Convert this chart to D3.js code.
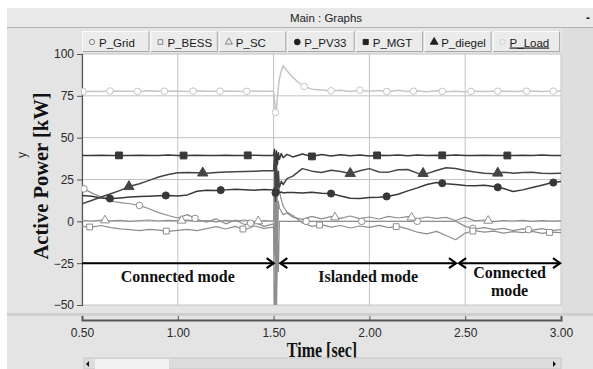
<!DOCTYPE html>
<html>
<head>
<meta charset="utf-8">
<script src="https://cdn.jsdelivr.net/npm/d3@7"></script>
<style>
  html, body { margin: 0; padding: 0; background: #fff; }
  svg { display: block; }
</style>
</head>
<body>
<svg id="chart" width="593" height="369"></svg>
<script>
// sample times (s), denser around the switching instant
const TIMES = [0.50, 0.55, 0.60, 0.65, 0.70, 0.75, 0.80, 0.85, 0.90, 0.95, 1.00, 1.05, 1.10, 1.15, 1.20, 1.25, 1.30, 1.35, 1.40, 1.45, 1.50,
  1.505, 1.51, 1.515, 1.52, 1.525, 1.53, 1.54, 1.55, 1.57,
  1.60, 1.65, 1.70, 1.75, 1.80, 1.85, 1.90, 1.95, 2.00, 2.05, 2.10, 2.15, 2.20, 2.25, 2.30, 2.35, 2.40, 2.45, 2.50,
  2.55, 2.60, 2.65, 2.70, 2.75, 2.80, 2.85, 2.90, 2.95, 3.00]

const P_GRID = [20, 17, 14.5, 12, 11.2, 10.5, 9.5, 7.5, 5.2, 3.5, 2, 4, 1.2, -0.5, 1.5, -1.5, 0.8, -2, -0.5, -3, -1.5,
  -55, -35, -58, -10, -30, 0, 0, 0, 0,
  0, 0, 0, 0, 0, 0, 0, 0, 0, 0, 0, 0, 0, 0, 0, 0, 0, 0, -3,
  -4.5, -3.8, -5, -4.2, -5.5, -4.5, -5.2, -4.4, -5.6, -5]
const P_BESS = [-3, -3.5, -2.5, -3.8, -4.5, -5, -5.5, -4.8, -5.2, -6, -5.4, -4.8, -5.6, -4.4, -3.2, -4.6, -3, -5, -2.8, -4.2, -3.5,
  -20, 30, -40, 25, 22, 18, 13, 9, 5.5,
  3.5, -1, -3, -2, -3.5, -2.5, -4, -2.8, -3.6, -2.4, -3.8, -3, -4.5, -6.5, -7.5, -6, -8.5, -11, -7,
  -5.5, -6.5, -5.8, -7, -6.2, -6.8, -6, -7.2, -6.5, -6.8]
const P_SC = [0.5, 0.2, 0.8, 0.3, 0.6, 0, 0.5, 0.8, 0.2, 0.6, 0.3, 0.7, 0, 0.5, -0.3, 0.6, 0.1, 0.8, -0.2, 0.4, 0.1,
  35, -45, 25, -20, 12, 8, 6, 4, 5,
  2.5, 1.2, 3, 1.5, 2.8, 1.8, 3.2, 1.6, 2.6, 1.4, 3, 2, 2.8, 1.5, 2.6, 1.8, 2.4, 0.5, 2.5,
  0.3, 0.8, -0.2, 0.5, 0.2, 0.6, 0, 0.4, 0.1, 0.3]
const P_PV33 = [15.5, 15, 14, 13.6, 14, 14.5, 14.8, 15, 15.3, 15.5, 15.2, 15.8, 18, 18.6, 18.5, 18.8, 19.2, 18.9, 18.6, 19, 18.8,
  20, 17, 22, 16, 19, 17, 17.5, 17, 17.2,
  17.2, 17, 17.4, 16.8, 16.6, 15.2, 13.8, 13.6, 14.2, 14.4, 15, 16.2, 18.2, 20, 22, 23.2, 22.5, 22, 21.4,
  21.2, 21.6, 20.8, 19.6, 17.8, 18.8, 20.2, 21.6, 23, 23.8]
const P_MGT = [39.4, 39.3, 39.5, 39.4, 39.4, 39.3, 39.5, 39.4, 39.4, 39.6, 39.4, 39.3, 39.5, 39.4, 39.4, 39.5, 39.3, 39.4, 39.5, 39.4, 39.4,
  43, 30, 42, 34, 41, 37, 40.5, 38, 40,
  38.5, 40.2, 38.8, 40, 39, 39.8, 39.2, 39.6, 39.1, 39.5, 39.3, 39.7, 39.2, 39.6, 39.3, 39.5, 39.4, 39.6, 39.4,
  39.3, 39.5, 39.4, 39.4, 39.3, 39.5, 39.4, 39.6, 39.3, 39.4]
const P_DIEGEL = [10.5, 12.5, 14.5, 16.5, 18.5, 21, 22.5, 24.5, 26.5, 28, 29, 29.2, 29, 28.8, 29.2, 29.5, 29.6, 29.8, 30, 30.2, 30.3,
  40, 12, 35, 18, 30, 20, 24, 22, 25.5,
  27, 31.5, 30, 29.2, 30.5, 29.8, 28.6, 30.2, 31.5, 29.5, 29.4, 30.8, 31, 28.8, 28.5, 30.4, 32, 31.6, 30.4,
  29.5, 28.8, 28.4, 29.4, 28.8, 29.2, 29.4, 28.8, 28.6, 28.8]
const P_LOAD = [77.5, 77.8, 77.6, 77.9, 77.7, 77.8, 77.6, 78, 77.7, 77.8, 77.9, 77.6, 78, 77.8, 77.7, 77.9, 77.8, 77.6, 77.9, 77.8, 77.7,
  72, 65, 67, 74, 80, 85, 90, 93, 90,
  86, 81, 79, 78.5, 78, 78.3, 77.6, 78.4, 77.8, 78.2, 77.5, 78.3, 77.6, 77.9, 77.5, 78.1, 77.4, 77.8, 77.5,
  77.8, 77.6, 77.7, 77.8, 77.6, 77.7, 77.9, 77.6, 77.8, 77.7]

// marker positions (s) per series
const GRID_MARKS = [0.51, 0.80, 1.09, 1.38, 1.67, 1.96, 2.25, 2.54, 2.83]
const BESS_MARKS = [0.54, 0.94, 1.34, 1.74, 2.14, 2.54, 2.94]
const SC_MARKS = [0.62, 1.02, 1.42, 1.82, 2.22, 2.62]
const PV_MARKS = [0.646, 0.9375, 1.224, 1.51, 1.80, 2.09, 2.38, 2.67, 2.96]
const MGT_MARKS = [0.693, 1.03, 1.365, 1.70, 2.04, 2.38, 2.72]
const DIEGEL_MARKS = [0.745, 1.13, 1.90, 2.28, 2.67]
const LOAD_MARKS = [0.505, 0.646, 0.79, 0.93, 1.08, 1.22, 1.36, 1.51, 1.66, 1.80, 1.95, 2.09, 2.23, 2.38, 2.53, 2.67, 2.82, 2.96]

const SERIES_NAMES = ['P_Grid', 'P_BESS', 'P_SC', 'P_PV33', 'P_MGT', 'P_diegel', 'P_Load']
const Y_TICKS = [100, 75, 50, 25, 0, -25, -50]
const X_TICKS = [0.5, 1.0, 1.5, 2.0, 2.5, 3.0]

const MODE_LABELS = [['Connected mode'], ['Islanded mode'], ['Connected', 'mode']]
const MODE_START = [0.5, 1.535, 2.468]
const MODE_END = [1.50, 2.452, 2.995]

const PLOT_LEFT = 82
const PLOT_RIGHT = 561
const PLOT_TOP = 54
const PLOT_BOTTOM = 305
const BG = '#e4e4e4'
const SANS = 'Liberation Sans, Arial, sans-serif'
const SERIF = 'Liberation Serif, Times New Roman, serif'

const seriesStyle = [
  { values: P_GRID, marks: GRID_MARKS, symbol: d3.symbolCircle, size: 34, color: '#8e8e8e', filled: false, width: 1.2 },
  { values: P_BESS, marks: BESS_MARKS, symbol: d3.symbolSquare, size: 34, color: '#8e8e8e', filled: false, width: 1.2 },
  { values: P_SC, marks: SC_MARKS, symbol: d3.symbolTriangle, size: 34, color: '#8e8e8e', filled: false, width: 1.2 },
  { values: P_PV33, marks: PV_MARKS, symbol: d3.symbolCircle, size: 40, color: '#383838', filled: true, width: 1.5 },
  { values: P_MGT, marks: MGT_MARKS, symbol: d3.symbolSquare, size: 46, color: '#383838', filled: true, width: 1.5 },
  { values: P_DIEGEL, marks: DIEGEL_MARKS, symbol: d3.symbolTriangle, size: 46, color: '#454545', filled: true, width: 1.5 },
  { values: P_LOAD, marks: LOAD_MARKS, symbol: d3.symbolCircle, size: 34, color: '#c6c6c6', filled: false, width: 1.5 }
]

const svg = d3.select('#chart')

const x = d3.scaleLinear().domain([0.5, 3.0]).range([PLOT_LEFT, PLOT_RIGHT])
const y = d3.scaleLinear().domain([-50, 100]).range([PLOT_BOTTOM, PLOT_TOP])

// window background
svg.append('rect').attr('x', 7).attr('y', 8).attr('width', 586).attr('height', 361).attr('fill', BG)

// title bar
svg.append('rect').attr('x', 7).attr('y', 8).attr('width', 586).attr('height', 19).attr('fill', '#e9e9e9')
svg.append('line').attr('x1', 7).attr('x2', 593).attr('y1', 27.5).attr('y2', 27.5).attr('stroke', '#b4b4b4')
svg.append('text')
  .attr('x', 326).attr('y', 22)
  .attr('text-anchor', 'middle')
  .attr('font-family', SANS).attr('font-size', 11.5).attr('fill', '#222')
  .text('Main : Graphs')
svg.append('text')
  .attr('x', 588).attr('y', 22)
  .attr('text-anchor', 'middle')
  .attr('font-family', SANS).attr('font-size', 12).attr('font-weight', 'bold').attr('fill', '#222')
  .text('-')
svg.append('path').attr('d', 'M590,30 L593,33 L590,36 Z').attr('fill', '#111')

// right panel shade
svg.append('rect').attr('x', PLOT_RIGHT + 1).attr('y', 28).attr('width', 32).attr('height', 285).attr('fill', '#dedede')

// legend buttons
const btnW = (PLOT_RIGHT - PLOT_LEFT) / SERIES_NAMES.length
const legend = svg.append('g')
SERIES_NAMES.forEach((name, i) => {
  const bx = PLOT_LEFT + i * btnW
  const g = legend.append('g').attr('transform', `translate(${bx},31)`)
  g.append('rect').attr('width', btnW - 1).attr('height', 21).attr('fill', '#ebebeb')
  g.append('path').attr('d', `M0.5,20.5 V0.5 H${btnW - 1.5}`).attr('fill', 'none').attr('stroke', '#fafafa')
  g.append('path').attr('d', `M${btnW - 1.5},0.5 V20.5 H0.5`).attr('fill', 'none').attr('stroke', '#a8a8a8')
  const st = seriesStyle[i]
  const legendColor = i < 3 ? '#7a7a7a' : (i === 6 ? '#cfcfcf' : '#202020')
  g.append('path')
    .attr('transform', 'translate(10,11)')
    .attr('d', d3.symbol().type(st.symbol).size(st.filled ? 26 : 22)())
    .attr('fill', st.filled ? legendColor : 'none')
    .attr('stroke', legendColor)
    .attr('stroke-width', 0.9)
  const t = g.append('text')
    .attr('x', 17).attr('y', 15.5)
    .attr('font-family', SANS).attr('font-size', 11.5).attr('fill', '#1a1a1a')
    .text(name)
  if (i === 6) t.attr('text-decoration', 'underline')
})

// plot area
svg.append('rect')
  .attr('x', PLOT_LEFT).attr('y', PLOT_TOP)
  .attr('width', PLOT_RIGHT - PLOT_LEFT).attr('height', PLOT_BOTTOM - PLOT_TOP)
  .attr('fill', '#fff').attr('stroke', '#c4c4c4')

// grid
svg.append('g').selectAll('line').data(X_TICKS.slice(1, -1)).join('line')
  .attr('x1', d => x(d)).attr('x2', d => x(d))
  .attr('y1', PLOT_TOP).attr('y2', PLOT_BOTTOM)
  .attr('stroke', '#c2c2c2')
svg.append('g').selectAll('line').data(Y_TICKS.slice(1, -1)).join('line')
  .attr('x1', PLOT_LEFT).attr('x2', PLOT_RIGHT)
  .attr('y1', d => y(d)).attr('y2', d => y(d))
  .attr('stroke', '#c2c2c2')

// y axis
const yAxis = svg.append('g')
  .attr('transform', `translate(${PLOT_LEFT},0)`)
  .call(d3.axisLeft(y).tickValues(Y_TICKS).tickSize(5).tickPadding(3).tickFormat(d3.format('d')))
yAxis.select('.domain').attr('stroke', '#555').attr('stroke-width', 1.2)
yAxis.selectAll('.tick line').attr('stroke', '#555')
yAxis.selectAll('.tick text').attr('font-family', SANS).attr('font-size', 12).attr('fill', '#2a2a2a')

svg.append('text')
  .attr('transform', 'translate(26,155) rotate(-90)')
  .attr('text-anchor', 'middle')
  .attr('font-family', SANS).attr('font-size', 12).attr('fill', '#333')
  .text('y')
svg.append('text')
  .attr('transform', 'translate(48,176) rotate(-90)')
  .attr('text-anchor', 'middle')
  .attr('font-family', SERIF).attr('font-size', 20.5).attr('font-weight', 'bold').attr('fill', '#111')
  .text('Active Power [kW]')

// separator under plot
svg.append('rect').attr('x', 7).attr('y', 313).attr('width', 586).attr('height', 3).attr('fill', '#cfcfcf')

// x axis
const xAxis = svg.append('g')
  .attr('transform', 'translate(0,320)')
  .call(d3.axisBottom(x).tickValues(X_TICKS).tickSize(-4).tickPadding(8).tickFormat(d3.format('.2f')))
xAxis.select('.domain').attr('stroke', '#555').attr('stroke-width', 2)
xAxis.selectAll('.tick line').attr('stroke', '#555')
xAxis.selectAll('.tick text').attr('font-family', SANS).attr('font-size', 12).attr('fill', '#2a2a2a')

svg.append('text')
  .attr('transform', 'translate(322,357) scale(1,1.3)')
  .attr('text-anchor', 'middle')
  .attr('font-family', SERIF).attr('font-size', 16).attr('font-weight', 'bold').attr('fill', '#111')
  .text('Time [sec]')

// scrollbar
svg.append('rect').attr('x', 84).attr('y', 358).attr('width', 477).attr('height', 11).attr('fill', '#dcdcdc').attr('stroke', '#c8c8c8')
svg.append('rect').attr('x', 95).attr('y', 359).attr('width', 74).attr('height', 10).attr('fill', '#f2f2f2')
svg.append('path').attr('d', 'M89,361 L86,364 L89,367 Z').attr('fill', '#111')
svg.append('path').attr('d', 'M553,361 L556,364 L553,367 Z').attr('fill', '#111')

// series
const clip = svg.append('clipPath').attr('id', 'plot-clip')
clip.append('rect')
  .attr('x', PLOT_LEFT).attr('y', PLOT_TOP)
  .attr('width', PLOT_RIGHT - PLOT_LEFT).attr('height', PLOT_BOTTOM - PLOT_TOP)

const plot = svg.append('g').attr('clip-path', 'url(#plot-clip)')
const line = d3.line().x((d, i) => x(TIMES[i])).y(d => y(d))
const bisect = d3.bisector(d => d).right

function valueAt (values, t) {
  const i = Math.min(Math.max(bisect(TIMES, t) - 1, 0), TIMES.length - 2)
  const f = (t - TIMES[i]) / (TIMES[i + 1] - TIMES[i])
  return values[i] + f * (values[i + 1] - values[i])
}

seriesStyle.forEach(st => {
  plot.append('path')
    .datum(st.values)
    .attr('fill', 'none')
    .attr('stroke', st.color)
    .attr('stroke-width', st.width)
    .attr('stroke-linejoin', 'round')
    .attr('d', line)
})

seriesStyle.forEach(st => {
  plot.append('g').selectAll('path').data(st.marks).join('path')
    .attr('transform', t => `translate(${x(t)},${y(valueAt(st.values, t))})`)
    .attr('d', d3.symbol().type(st.symbol).size(st.size)())
    .attr('fill', st.filled ? st.color : '#fff')
    .attr('stroke', st.color)
    .attr('stroke-width', 1)
})

// operating mode arrows
const ARROW_Y = y(-25)
const modes = svg.append('g')
MODE_LABELS.forEach((lines, i) => {
  const x0 = x(MODE_START[i])
  const x1 = x(MODE_END[i])
  modes.append('line')
    .attr('x1', x0).attr('x2', x1).attr('y1', ARROW_Y).attr('y2', ARROW_Y)
    .attr('stroke', '#000').attr('stroke-width', 2)
  modes.append('path')
    .attr('d', `M${x1 - 7},${ARROW_Y - 5} L${x1},${ARROW_Y} L${x1 - 7},${ARROW_Y + 5}`)
    .attr('fill', 'none').attr('stroke', '#000').attr('stroke-width', 2.2)
  if (i > 0) {
    modes.append('path')
      .attr('d', `M${x0 + 7},${ARROW_Y - 5} L${x0},${ARROW_Y} L${x0 + 7},${ARROW_Y + 5}`)
      .attr('fill', 'none').attr('stroke', '#000').attr('stroke-width', 2.2)
  }
  const cx = (x0 + x1) / 2
  lines.forEach((txt, j) => {
    const base = lines.length > 1 ? 278 + j * 18 : 282
    modes.append('text')
      .attr('transform', `translate(${cx},${base}) scale(1,1.1)`)
      .attr('text-anchor', 'middle')
      .attr('font-family', SERIF).attr('font-size', 16).attr('font-weight', 'bold').attr('fill', '#111')
      .text(txt)
  })
})
</script>
</body>
</html>
